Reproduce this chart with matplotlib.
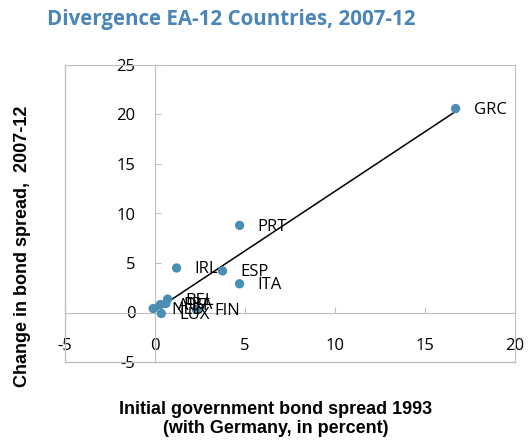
import matplotlib
matplotlib.use("Agg")
import matplotlib.pyplot as plt
import numpy as np

plt.rcParams["axes.unicode_minus"] = False

countries = ["GRC", "PRT", "IRL", "ESP", "ITA", "BEL", "NLD", "AUT", "FRA", "LUX", "FIN"]
spread_1993 = [16.7, 4.7, 1.2, 3.75, 4.7, 0.7, -0.1, 0.3, 0.6, 0.35, 2.3]
change_07_12 = [20.6, 8.8, 4.5, 4.2, 2.9, 1.35, 0.4, 0.8, 0.9, -0.1, 0.3]
xticks = [-5, 0, 5, 10, 15, 20]
yticks = [-5, 0, 5, 10, 15, 20, 25]

W, H = 528, 440
fig = plt.figure(figsize=(W / 100, H / 100), dpi=100)
ax = fig.add_axes([65 / W, (H - 362) / H, 450 / W, 297 / H])
ax.set_xlim(-5, 20)
ax.set_ylim(-5, 25)

grey = "#BFBFBF"
for s in ["top", "right"]:
    ax.spines[s].set_color(grey)
ax.spines["left"].set_position(("data", 0))
ax.spines["bottom"].set_position(("data", 0))
ax.spines["left"].set_color(grey)
ax.spines["bottom"].set_color(grey)
# outer frame on left/bottom
ax.plot([0, 0], [0, 1], transform=ax.transAxes, color=grey, lw=1, clip_on=False)
ax.plot([0, 1], [0, 0], transform=ax.transAxes, color=grey, lw=1, clip_on=False)

ax.set_xticks(xticks)
ax.set_yticks(yticks)
tickfont = "Open Sans"
ax.tick_params(axis="x", direction="in", length=4, color=grey, pad=18, labelsize=12)
ax.tick_params(axis="y", direction="in", length=4, color=grey, pad=14, labelsize=12)
for lab in ax.get_xticklabels() + ax.get_yticklabels():
    lab.set_fontfamily(tickfont)

x = np.array(spread_1993)
y = np.array(change_07_12)
coef = np.polyfit(x, y, 1)
xs = np.array([x.min(), x.max()])
ax.plot(xs, np.polyval(coef, xs), color="black", lw=1.1, zorder=2)

ax.scatter(x, y, s=45, color="#4A8DB5", zorder=3, edgecolors="none")
for c, xi, yi in zip(countries, x, y):
    ax.annotate(c, (xi, yi), xytext=(13, -1), textcoords="offset points",
                va="center", ha="left", fontsize=12, fontfamily=tickfont, zorder=4)

fig.text(47 / W, 1 - 20 / H, "Divergence EA-12 Countries, 2007-12", fontsize=14.8,
         fontweight="bold", color="#4A86B8", fontfamily="Open Sans", va="center", ha="left")

fig.text(276 / W, 1 - 409 / H, "Initial government bond spread 1993", fontsize=13,
         fontweight="bold", fontfamily="Liberation Sans", ha="center", va="center")
fig.text(276 / W, 1 - 428 / H, "(with Germany, in percent)", fontsize=13,
         fontweight="bold", fontfamily="Liberation Sans", ha="center", va="center")
fig.text(23 / W, 1 - 246 / H, "Change in bond spread,  2007-12", fontsize=13,
         fontweight="bold", fontfamily="Liberation Sans", ha="center", va="center",
         rotation=90)

fig.savefig("out.png", dpi=100)
